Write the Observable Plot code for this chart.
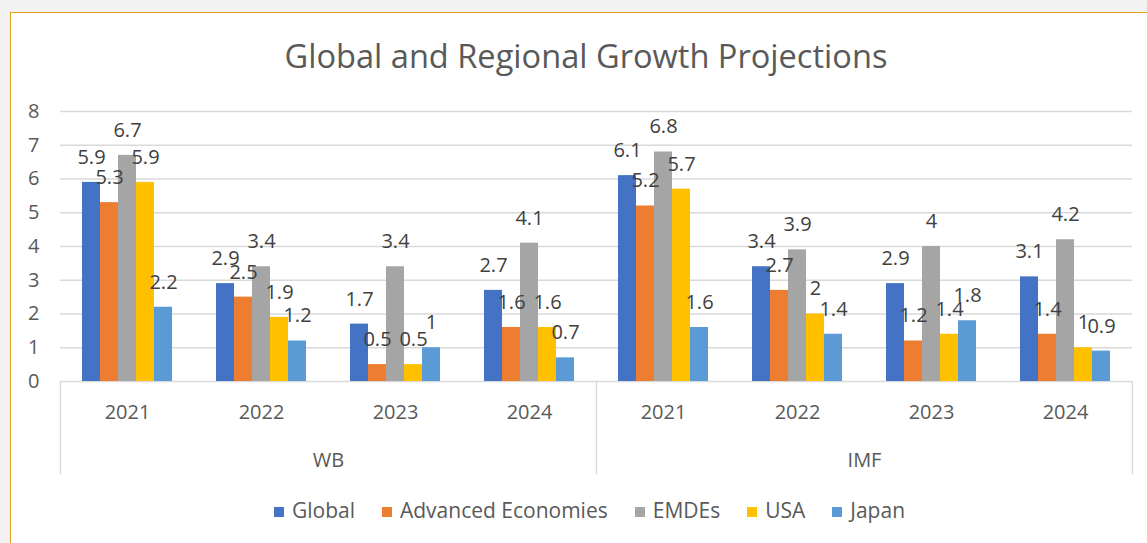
<!DOCTYPE html>
<html>
<head>
<meta charset="utf-8">
<script src="https://cdn.jsdelivr.net/npm/d3@7"></script>
<script src="https://cdn.jsdelivr.net/npm/@observablehq/plot@0.6"></script>
<style>
  html, body { margin: 0; padding: 0; background: #f2f2f2; overflow: hidden; width: 1147px; height: 543px; }
  #chart { position: absolute; left: 10px; top: 12px; width: 1160px; height: 560px; background: #fff;
           border-left: 1.5px solid #E0A316; border-top: 1.5px solid #E0A316; font-family: "Open Sans", sans-serif; }
  #title { position: absolute; left: 0; top: 24px; width: 1150px; text-align: center; font-size: 32.6px; line-height: 38px; color: #595959; }
  #plot { position: absolute; left: -3px; top: 77px; }
  #legend { position: absolute; left: 0; top: 485px; width: 1157px; text-align: center; font-size: 21px; line-height: 24px; color: #595959; }
  #legend .item { display: inline-block; margin: 0 13.5px; white-space: nowrap; }
  #legend .sw { display: inline-block; width: 10px; height: 10px; margin-right: 8px; vertical-align: 1px; }
</style>
</head>
<body>
<div id="chart">
  <div id="title">Global and Regional Growth Projections</div>
  <div id="plot"></div>
  <div id="legend"></div>
</div>
<script>
const sources = ["WB", "IMF"];
const years = ["2021", "2022", "2023", "2024"];
const seriesNames = ["Global", "Advanced Economies", "EMDEs", "USA", "Japan"];
const seriesColors = ["#4472C4", "#ED7D31", "#A5A5A5", "#FFC000", "#5B9BD5"];
// values in order WB 2021..2024, IMF 2021..2024
const globalVals   = [5.9, 2.9, 1.7, 2.7, 6.1, 3.4, 2.9, 3.1];
const advancedVals = [5.3, 2.5, 0.5, 1.6, 5.2, 2.7, 1.2, 1.4];
const emdesVals    = [6.7, 3.4, 3.4, 4.1, 6.8, 3.9, 4.0, 4.2];
const usaVals      = [5.9, 1.9, 0.5, 1.6, 5.7, 2.0, 1.4, 1.0];
const japanVals    = [2.2, 1.2, 1.0, 0.7, 1.6, 1.4, 1.8, 0.9];
const yTicks = [0, 1, 2, 3, 4, 5, 6, 7, 8];

const seriesValues = [globalVals, advancedVals, emdesVals, usaVals, japanVals];
const keys = sources.flatMap(s => years.map(y => s + " " + y));
const rows = [];
seriesNames.forEach((name, si) => {
  keys.forEach((k, ki) => {
    rows.push({key: k, source: sources[Math.floor(ki / years.length)], year: years[ki % years.length], series: name, value: seriesValues[si][ki]});
  });
});
const yearRows = keys.map((k, ki) => ({key: k, year: years[ki % years.length]}));
// source label sits at the boundary after the 2nd year of each source
const sourceRows = sources.map(s => ({key: s + " " + years[1], source: s}));
const leftEdges = sources.map(s => ({key: s + " " + years[0]}));
const rightEdges = [{key: sources[sources.length - 1] + " " + years[years.length - 1]}];

const sep = {length: 92, rotate: 180, anchor: "start", stroke: "#d9d9d9", strokeWidth: 1.3, r: 0};

const plot = Plot.plot({
  width: 1150,
  height: 388,
  marginLeft: 51,
  marginRight: 25,
  marginTop: 21,
  marginBottom: 97,
  style: {fontFamily: "'Open Sans', sans-serif", fontSize: "20px", color: "#595959", background: "transparent", overflow: "visible"},
  fx: {domain: keys, padding: 0, axis: null},
  x: {domain: seriesNames, paddingInner: 0, paddingOuter: 1.075, axis: null},
  y: {domain: [0, 8], ticks: yTicks, tickSize: 0, tickPadding: 21, label: null, tickFormat: d => String(d)},
  color: {domain: seriesNames, range: seriesColors},
  marks: [
    Plot.ruleY(yTicks, {stroke: "#d9d9d9", strokeWidth: 1.3}),
    Plot.barY(rows, {fx: "key", x: "series", y: "value", fill: "series"}),
    Plot.text(rows, {fx: "key", x: "series", y: "value", text: d => String(d.value), dy: -25, fontSize: 20, fill: "#404040"}),
    Plot.text(yearRows, {fx: "key", frameAnchor: "bottom", text: "year", dy: 37, fontSize: 20}),
    Plot.text(sourceRows, {fx: "key", frameAnchor: "bottom-right", text: "source", textAnchor: "middle", dy: 85, fontSize: 20}),
    Plot.vector(leftEdges, {fx: "key", frameAnchor: "bottom-left", ...sep}),
    Plot.vector(rightEdges, {fx: "key", frameAnchor: "bottom-right", ...sep})
  ]
});
document.getElementById("plot").appendChild(plot);

const legend = document.getElementById("legend");
seriesNames.forEach((name, i) => {
  const item = document.createElement("span");
  item.className = "item";
  const sw = document.createElement("span");
  sw.className = "sw";
  sw.style.background = seriesColors[i];
  item.appendChild(sw);
  item.appendChild(document.createTextNode(name));
  legend.appendChild(item);
});
</script>
</body>
</html>
